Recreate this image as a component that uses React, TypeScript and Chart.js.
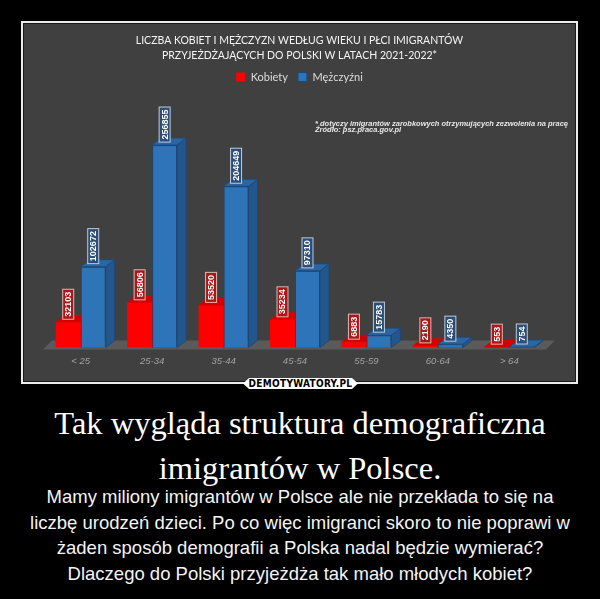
import React, { useEffect, useRef } from "react";
import { Chart, registerables } from "chart.js";

Chart.register(...registerables);

const CATEGORIES = ["< 25", "25-34", "35-44", "45-54", "55-59", "60-64", "> 64"];
const KOBIETY = [32103, 56806, 53520, 35234, 6883, 2190, 553];
const MEZCZYZNI = [102672, 256855, 204649, 97310, 15783, 4350, 754];
const SERIES_NAMES = ["Kobiety", "Mężczyźni"];
const TITLE_LINES = [
  "LICZBA KOBIET I MĘŻCZYZN WEDŁUG WIEKU I PŁCI IMIGRANTÓW",
  "PRZYJEŻDŻAJĄCYCH DO POLSKI W LATACH 2021-2022*",
];
const FOOTNOTE_LINES = [
  "* dotyczy imigrantów zarobkowych otrzymujących zezwolenia na pracę",
  "Źródło: psz.praca.gov.pl",
];
const HEADLINE_LINES = ["Tak wygląda struktura demograficzna", "imigrantów w Polsce."];
const DESCRIPTION_LINES = [
  "Mamy miliony imigrantów w Polsce ale nie przekłada to się na",
  "liczbę urodzeń dzieci. Po co więc imigranci skoro to nie poprawi w",
  "żaden sposób demografii a Polska nadal będzie wymierać?",
  "Dlaczego do Polski przyjeżdża tak mało młodych kobiet?",
];
const BADGE_TEXT = "DEMOTYWATORY.PL";

const DX = 9;
const DY = 7;

const STYLE = [
  { front: "#ff0000", border: "#e00000", top: "#d40000", side: "#b00000", labelFill: "#a81818", labelStroke: "rgba(245,205,205,0.85)" },
  { front: "#2e74b8", border: "#1d4675", top: "#2a66a3", side: "#22568c", labelFill: "#2c4d75", labelStroke: "rgba(215,225,240,0.85)" },
];

function drawFaces(ctx: CanvasRenderingContext2D, bar: any, st: any) {
  const { x, y, base, width } = bar.getProps(["x", "y", "base", "width"], true);
  const l = x - width / 2;
  const r = x + width / 2;
  ctx.lineWidth = 0.8;
  ctx.strokeStyle = st.border;
  ctx.fillStyle = st.side;
  ctx.beginPath();
  ctx.moveTo(r, y);
  ctx.lineTo(r + DX, y - DY);
  ctx.lineTo(r + DX, base - DY);
  ctx.lineTo(r, base);
  ctx.closePath();
  ctx.fill();
  ctx.stroke();
  ctx.fillStyle = st.top;
  ctx.beginPath();
  ctx.moveTo(l, y);
  ctx.lineTo(r, y);
  ctx.lineTo(r + DX, y - DY);
  ctx.lineTo(l + DX, y - DY);
  ctx.closePath();
  ctx.fill();
  ctx.stroke();
}

const bar3d = {
  id: "bar3d",
  beforeDraw(chart: any) {
    const { ctx, width, height } = chart;
    ctx.save();
    ctx.fillStyle = "#404040";
    ctx.fillRect(0, 0, width, height);
    ctx.restore();
  },
  beforeDatasetsDraw(chart: any) {
    const { ctx, chartArea } = chart;
    ctx.save();
    const b = chartArea.bottom + 2;
    const t = chartArea.bottom - 7;
    const l = chartArea.left - 2;
    const r = chartArea.right + 1;
    ctx.fillStyle = "#5a5a5a";
    ctx.beginPath();
    ctx.moveTo(l, b);
    ctx.lineTo(r, b);
    ctx.lineTo(r + DX, t);
    ctx.lineTo(l + DX, t);
    ctx.closePath();
    ctx.fill();
    const meta0 = chart.getDatasetMeta(0);
    meta0.data.forEach((bar: any) => drawFaces(ctx, bar, STYLE[0]));
    ctx.restore();
  },
  afterDatasetsDraw(chart: any) {
    const { ctx } = chart;
    ctx.save();
    const meta1 = chart.getDatasetMeta(1);
    meta1.data.forEach((bar: any) => drawFaces(ctx, bar, STYLE[1]));
    ctx.font = 'bold 9px "Liberation Sans"';
    ctx.textAlign = "center";
    ctx.textBaseline = "middle";
    [0, 1].forEach((di) => {
      const meta = chart.getDatasetMeta(di);
      const values = chart.data.datasets[di].data;
      meta.data.forEach((bar: any, i: number) => {
        const { x, y } = bar.getProps(["x", "y"], true);
        const txt = String(values[i]);
        const tw = ctx.measureText(txt).width;
        const bw = tw + 5;
        const bh = 11;
        ctx.save();
        ctx.translate(x, y - 3);
        ctx.rotate(-Math.PI / 2);
        ctx.fillStyle = STYLE[di].labelFill;
        ctx.fillRect(0, -bh / 2, bw, bh);
        ctx.strokeStyle = STYLE[di].labelStroke;
        ctx.lineWidth = 1;
        ctx.strokeRect(0, -bh / 2, bw, bh);
        ctx.fillStyle = "#ffffff";
        ctx.fillText(txt, bw / 2, 0.5);
        ctx.restore();
      });
    });
    ctx.restore();
  },
  afterDraw(chart: any) {
    const { ctx } = chart;
    ctx.save();
    ctx.font = 'italic bold 7px "Liberation Sans"';
    ctx.fillStyle = "#e8e8e8";
    ctx.textBaseline = "alphabetic";
    ctx.textAlign = "left";
    const w0 = ctx.measureText(FOOTNOTE_LINES[0]).width;
    const sx = 253 / w0;
    FOOTNOTE_LINES.forEach((line, i) => {
      ctx.save();
      ctx.translate(291, 101.5 + i * 6.5);
      ctx.scale(sx, 1);
      ctx.fillText(line, 0, 0);
      ctx.restore();
    });
    ctx.restore();
  },
};

function ChartBox() {
  const ref = useRef<HTMLCanvasElement | null>(null);
  useEffect(() => {
    if (!ref.current) return;
    const chart = new Chart(ref.current, {
      type: "bar",
      data: {
        labels: CATEGORIES,
        datasets: [
          {
            label: SERIES_NAMES[0],
            data: KOBIETY,
            backgroundColor: STYLE[0].front,
            borderColor: STYLE[0].border,
            borderWidth: 0,
            barPercentage: 1,
            categoryPercentage: 0.7,
          },
          {
            label: SERIES_NAMES[1],
            data: MEZCZYZNI,
            backgroundColor: STYLE[1].front,
            borderColor: STYLE[1].border,
            borderWidth: 1,
            barPercentage: 1,
            categoryPercentage: 0.7,
          },
        ],
      },
      options: {
        animation: false,
        responsive: false,
        maintainAspectRatio: false,
        layout: { padding: { left: 21, right: 21, top: 0, bottom: 6 } },
        plugins: {
          title: {
            display: true,
            text: TITLE_LINES,
            color: "#f4f4f4",
            font: { family: "Lato", size: 10.5, weight: "normal", lineHeight: 1.43 },
            padding: { top: 9.5, bottom: -2 },
          },
          legend: {
            display: true,
            labels: {
              color: "#dcdcdc",
              boxWidth: 9,
              boxHeight: 9,
              padding: 10,
              font: { family: "Lato", size: 11 },
            },
          },
          tooltip: { enabled: false },
        },
        scales: {
          x: {
            grid: { display: false, drawTicks: false },
            border: { display: false },
            ticks: {
              color: "#a2a2a2",
              font: { family: "Liberation Sans", style: "italic", size: 9.5 },
              padding: 8,
            },
          },
          y: {
            display: true,
            position: "right",
            min: 0,
            max: 323500,
            grid: { display: false, drawTicks: false },
            border: { display: false },
            ticks: { display: false },
            afterFit(scale: any) {
              scale.width = 9;
            },
          },
        },
      },
      plugins: [bar3d],
    });
    return () => chart.destroy();
  }, []);
  return <canvas ref={ref} width={551} height={357} style={{ display: "block", width: 551, height: 357 }} />;
}

export default function App() {
  return (
    <div style={{ position: "fixed", left: 0, top: 0, width: 600, height: 599, background: "#000", overflow: "hidden" }}>
      <div
        style={{
          position: "absolute",
          left: 21,
          top: 21,
          width: 551,
          height: 357,
          border: "2px solid #ececec",
          padding: 1,
          background: "#1a1a1a",
        }}
      >
        <ChartBox />
      </div>
      <div
        style={{
          position: "absolute",
          left: 243,
          top: 378,
          width: 115,
          height: 11,
          background: "#fff",
          clipPath: "polygon(6px 0, calc(100% - 6px) 0, 100% 50%, calc(100% - 6px) 100%, 6px 100%, 0 50%)",
          color: "#000",
          font: 'bold 10px "DejaVu Sans Condensed", "DejaVu Sans"',
          fontStretch: "condensed",
          lineHeight: "11px",
          textAlign: "center",
          letterSpacing: 0.3,
        }}
      >
        {BADGE_TEXT}
      </div>
      <div
        style={{
          position: "absolute",
          left: 0,
          top: 401,
          width: 600,
          textAlign: "center",
          color: "#fff",
          font: '32.5px "Liberation Serif"',
          lineHeight: "45px",
          whiteSpace: "nowrap",
        }}
      >
        {HEADLINE_LINES.map((l, i) => (
          <div key={i}>{l}</div>
        ))}
      </div>
      <div
        style={{
          position: "absolute",
          left: 0,
          top: 484,
          width: 600,
          textAlign: "center",
          color: "#f4f4f4",
          font: '18.5px "Liberation Sans"',
          lineHeight: "25.5px",
          whiteSpace: "nowrap",
        }}
      >
        {DESCRIPTION_LINES.map((l, i) => (
          <div key={i}>{l}</div>
        ))}
      </div>
    </div>
  );
}
